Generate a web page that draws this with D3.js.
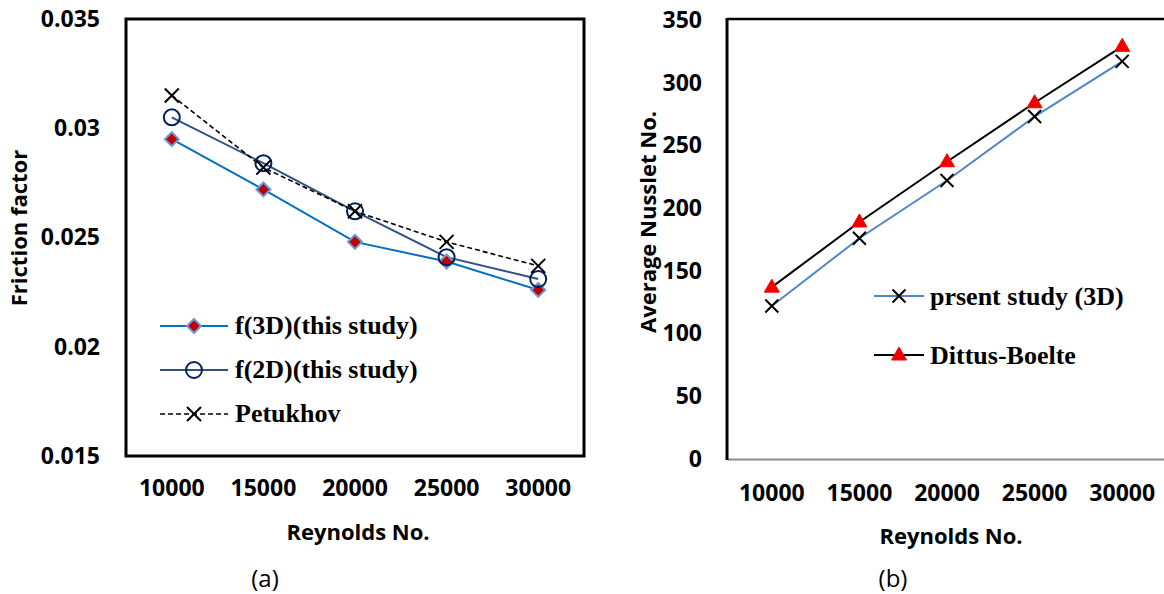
<!DOCTYPE html>
<html>
<head>
<meta charset="utf-8">
<script src="https://cdn.jsdelivr.net/npm/d3@7"></script>
<style>
  body { margin: 0; background: #fff; }
  svg { display: block; }
  .tick text { font-family: "Open Sans", sans-serif; font-weight: 700; font-size: 23px; fill: #000; }
  .title { font-family: "Open Sans", sans-serif; font-weight: 700; font-size: 22px; fill: #000; }
  .cap { font-family: "Open Sans", sans-serif; font-size: 24px; fill: #000; }
  .leg { font-family: "Liberation Serif", "Times New Roman", serif; font-weight: 700; font-size: 26px; fill: #000; }
</style>
</head>
<body>
<div id="chart"></div>
<script>
// categories (Reynolds No.)
var reynolds = ["10000", "15000", "20000", "25000", "30000"];

// panel (a) friction factor
var f3D = [0.0295, 0.0272, 0.0248, 0.0239, 0.0226];
var f2D = [0.0305, 0.0284, 0.0262, 0.0241, 0.0231];
var petukhov = [0.0315, 0.0282, 0.0262, 0.0248, 0.0237];
var fTicks = [0.015, 0.02, 0.025, 0.03, 0.035];

// panel (b) average Nusselt
var nuPresent = [122, 176, 222, 273, 317];
var nuDittus = [137, 189, 237, 284, 329];
var nuTicks = [0, 50, 100, 150, 200, 250, 300, 350];

var svg = d3.select("#chart")
    .append("svg")
    .attr("width", 1164)
    .attr("height", 594);

// ---------- panel (a) ----------
var xa = d3.scaleBand().domain(reynolds).range([126, 584]);
var ya = d3.scaleLinear().domain([0.015, 0.035]).range([456, 19]);
var cxa = d => xa(d) + xa.bandwidth() / 2;

var ga = svg.append("g");

ga.append("g")
    .attr("transform", "translate(126,0)")
    .call(d3.axisLeft(ya).tickValues(fTicks).tickSize(0).tickPadding(26).tickFormat(d => String(+d.toFixed(3))))
    .call(g => g.select(".domain").remove());

ga.append("g")
    .attr("transform", "translate(0,456)")
    .call(d3.axisBottom(xa).tickSize(0).tickPadding(24))
    .call(g => g.select(".domain").remove());

ga.append("rect")
    .attr("x", 126).attr("y", 19)
    .attr("width", 584 - 126).attr("height", 456 - 19)
    .attr("fill", "none").attr("stroke", "#000").attr("stroke-width", 3);

var linea = d3.line().x((d, i) => cxa(reynolds[i])).y(d => ya(d));

ga.append("path").datum(f3D)
    .attr("d", linea).attr("fill", "none")
    .attr("stroke", "#0070C0").attr("stroke-width", 2);
ga.append("path").datum(f2D)
    .attr("d", linea).attr("fill", "none")
    .attr("stroke", "#2F5283").attr("stroke-width", 2);
ga.append("path").datum(petukhov)
    .attr("d", linea).attr("fill", "none")
    .attr("stroke", "#000").attr("stroke-width", 1.6)
    .attr("stroke-dasharray", "5,3");

function diamond(g, x, y) {
    g.append("path")
        .attr("d", "M0,-7L7,0L0,7L-7,0Z")
        .attr("transform", "translate(" + x + "," + y + ")")
        .attr("fill", "#C00000").attr("stroke", "#6C9BD2").attr("stroke-width", 2);
}
function circle(g, x, y) {
    g.append("circle")
        .attr("cx", x).attr("cy", y).attr("r", 8)
        .attr("fill", "none").attr("stroke", "#002060").attr("stroke-width", 2);
}
function cross(g, x, y, r) {
    g.append("path")
        .attr("d", "M" + (-r) + "," + (-r) + "L" + r + "," + r + "M" + (-r) + "," + r + "L" + r + "," + (-r))
        .attr("transform", "translate(" + x + "," + y + ")")
        .attr("stroke", "#000").attr("stroke-width", 2).attr("fill", "none");
}
function triangle(g, x, y) {
    g.append("path")
        .attr("d", "M0,-8L7.5,5L-7.5,5Z")
        .attr("transform", "translate(" + x + "," + y + ")")
        .attr("fill", "#EE0000").attr("stroke", "#FF0000").attr("stroke-width", 1);
}

f3D.forEach((d, i) => diamond(ga, cxa(reynolds[i]), ya(d)));
f2D.forEach((d, i) => circle(ga, cxa(reynolds[i]), ya(d)));
petukhov.forEach((d, i) => cross(ga, cxa(reynolds[i]), ya(d), 7));

// legend (a)
var lega = ga.append("g");
lega.append("line").attr("x1", 160).attr("x2", 228).attr("y1", 326).attr("y2", 326)
    .attr("stroke", "#0070C0").attr("stroke-width", 2);
diamond(lega, 194, 326);
lega.append("line").attr("x1", 160).attr("x2", 228).attr("y1", 370).attr("y2", 370)
    .attr("stroke", "#2F5283").attr("stroke-width", 2);
circle(lega, 194, 370);
lega.append("line").attr("x1", 160).attr("x2", 228).attr("y1", 414).attr("y2", 414)
    .attr("stroke", "#000").attr("stroke-width", 1.6).attr("stroke-dasharray", "5,3");
cross(lega, 194, 414, 7);
lega.append("text").attr("class", "leg").attr("x", 235).attr("y", 334).text("f(3D)(this study)");
lega.append("text").attr("class", "leg").attr("x", 235).attr("y", 378).text("f(2D)(this study)");
lega.append("text").attr("class", "leg").attr("x", 235).attr("y", 422).text("Petukhov");

ga.append("text").attr("class", "title")
    .attr("transform", "translate(18,228) rotate(-90)")
    .attr("text-anchor", "middle").attr("dominant-baseline", "central").text("Friction factor");
ga.append("text").attr("class", "title")
    .attr("x", 358).attr("y", 540).attr("text-anchor", "middle").text("Reynolds No.");
ga.append("text").attr("class", "cap")
    .attr("x", 265).attr("y", 587).attr("text-anchor", "middle").text("(a)");

// ---------- panel (b) ----------
var xb = d3.scaleBand().domain(reynolds).range([728, 1166]);
var yb = d3.scaleLinear().domain([0, 350]).range([459, 20]);
var cxb = d => xb(d) + xb.bandwidth() / 2;

var gb = svg.append("g");

gb.append("g")
    .attr("transform", "translate(727,0)")
    .call(d3.axisLeft(yb).tickValues(nuTicks).tickSize(0).tickPadding(25))
    .call(g => g.select(".domain").remove());

gb.append("g")
    .attr("transform", "translate(0,459)")
    .call(d3.axisBottom(xb).tickSize(0).tickPadding(26))
    .call(g => g.select(".domain").remove());

gb.append("line").attr("x1", 727).attr("x2", 1164).attr("y1", 459.5).attr("y2", 459.5)
    .attr("stroke", "#8c8c8c").attr("stroke-width", 2);
gb.append("line").attr("x1", 727).attr("x2", 1164).attr("y1", 19).attr("y2", 19)
    .attr("stroke", "#000").attr("stroke-width", 2.5);
gb.append("line").attr("x1", 727).attr("x2", 727).attr("y1", 18).attr("y2", 460)
    .attr("stroke", "#000").attr("stroke-width", 3);

var lineb = d3.line().x((d, i) => cxb(reynolds[i])).y(d => yb(d));

gb.append("path").datum(nuPresent)
    .attr("d", lineb).attr("fill", "none")
    .attr("stroke", "#4F86C6").attr("stroke-width", 2);
gb.append("path").datum(nuDittus)
    .attr("d", lineb).attr("fill", "none")
    .attr("stroke", "#000").attr("stroke-width", 2);

nuPresent.forEach((d, i) => cross(gb, cxb(reynolds[i]), yb(d), 6.5));
nuDittus.forEach((d, i) => triangle(gb, cxb(reynolds[i]), yb(d)));

// legend (b)
var legb = gb.append("g");
legb.append("line").attr("x1", 874).attr("x2", 924).attr("y1", 296).attr("y2", 296)
    .attr("stroke", "#4F86C6").attr("stroke-width", 2);
cross(legb, 899, 296, 6.5);
legb.append("line").attr("x1", 874).attr("x2", 924).attr("y1", 355).attr("y2", 355)
    .attr("stroke", "#000").attr("stroke-width", 2);
triangle(legb, 899, 355);
legb.append("text").attr("class", "leg").attr("x", 930).attr("y", 305).text("prsent study (3D)");
legb.append("text").attr("class", "leg").attr("x", 930).attr("y", 364).text("Dittus-Boelte");

gb.append("text").attr("class", "title")
    .attr("transform", "translate(647,222) rotate(-90)")
    .attr("text-anchor", "middle").attr("dominant-baseline", "central").text("Average Nusslet No.");
gb.append("text").attr("class", "title")
    .attr("x", 951).attr("y", 544).attr("text-anchor", "middle").text("Reynolds No.");
gb.append("text").attr("class", "cap")
    .attr("x", 893).attr("y", 587).attr("text-anchor", "middle").text("(b)");
</script>
</body>
</html>
